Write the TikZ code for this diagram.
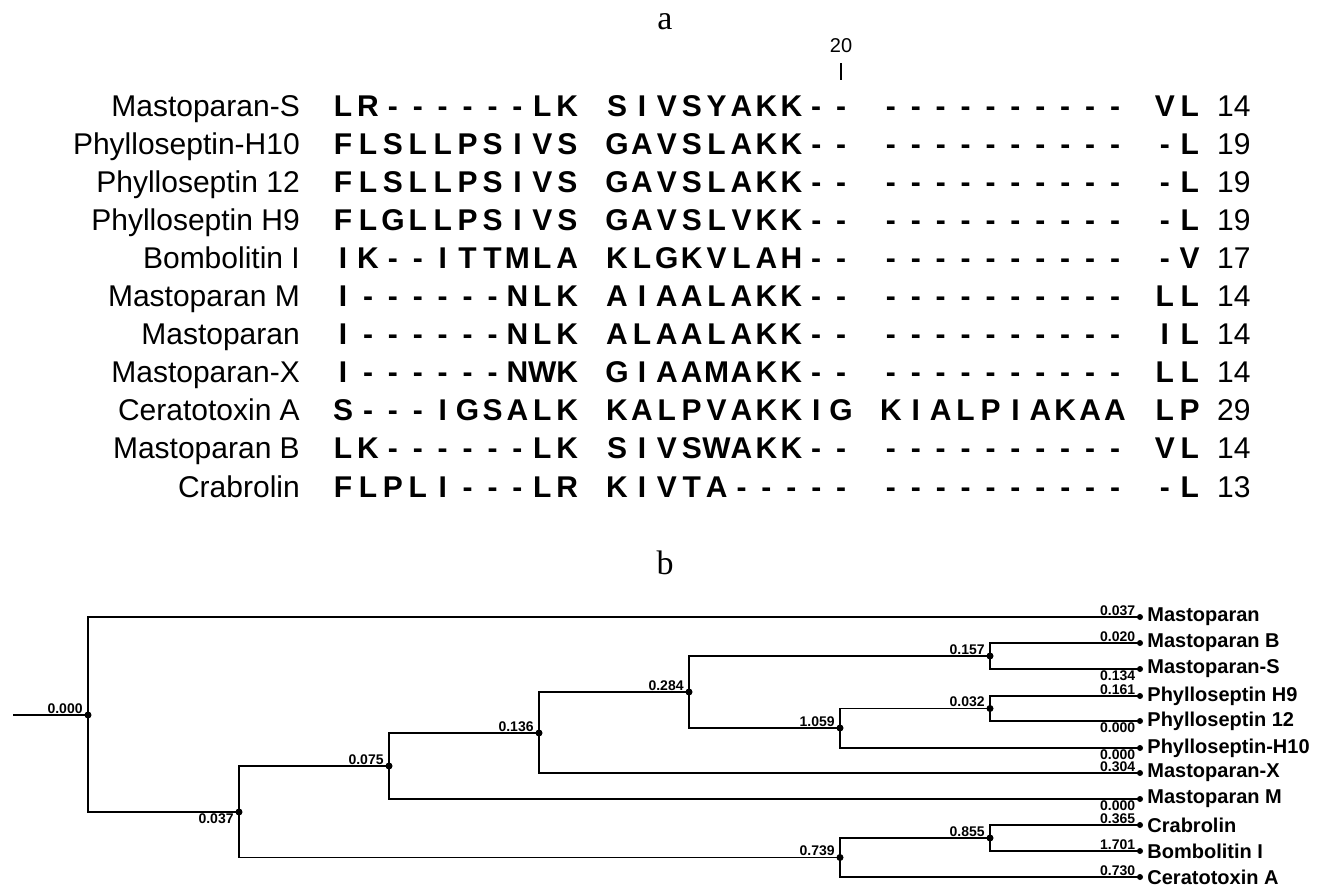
\documentclass[tikz,border=0pt]{standalone}
\usepackage{fontspec}
\setmainfont{Liberation Sans}
\newfontfamily\capfont{Liberation Serif}
\usetikzlibrary{positioning}

% one alignment column per residue, '.' is the gap between blocks
\newlength\colw
\setlength\colw{24.9pt}
\def\seqrow#1{\seqstep#1\relax}
\def\seqstep#1{\ifx\relax#1\else\seqchar{#1}\expandafter\seqstep\fi}
\def\seqchar#1{\ifx.#1\hspace*{\colw}\else\makebox[\colw]{#1}\fi}

\begin{document}
\begin{tikzpicture}[
    x=1pt, y=-1pt,
    title/.style={font=\capfont\fontsize{34}{34}\selectfont, inner sep=0},
    pname/.style={font=\fontsize{30}{30}\selectfont, anchor=base east, inner sep=0},
    res/.style={font=\bfseries\fontsize{30}{30}\selectfont, anchor=base west, inner sep=0},
    plen/.style={font=\fontsize{30}{30}\selectfont, anchor=base west, inner sep=0},
    branch/.style={line width=1.8pt},
    inode/.style={circle, fill, inner sep=0, minimum size=7pt},
    leaf/.style={circle, fill, inner sep=0, minimum size=6pt},
    blab/.style={font=\bfseries\fontsize{14}{14}\selectfont, inner sep=1.5pt},
    leafname/.style={font=\bfseries\fontsize{20}{20}\selectfont, inner sep=0, anchor=west}
]
\useasboundingbox (0,0) rectangle (1317,886);

% ---------- (a) alignment ----------
\node[title] (titleA) at (665,22) {a};
\node[font=\fontsize{20}{20}\selectfont, inner sep=0] (pos20) at (841,46) {20};
\draw[line width=1.5pt] (841,63) -- (841,80);

\node[pname] (nmMasS) at (300,116) {Mastoparan-S};
\node[res] (sqMasS) at (330.5,116) {\seqrow{LR------LK.SIVSYAKK--.----------.VL}};
\node[plen] (lnMasS) at (1217,116) {14};

\node[pname] (nmPhyH10) at (300,154.1) {Phylloseptin-H10};
\node[res] (sqPhyH10) at (330.5,154.1) {\seqrow{FLSLLPSIVS.GAVSLAKK--.----------.-L}};
\node[plen] (lnPhyH10) at (1217,154.1) {19};

\node[pname] (nmPhy12) at (300,192.2) {Phylloseptin 12};
\node[res] (sqPhy12) at (330.5,192.2) {\seqrow{FLSLLPSIVS.GAVSLAKK--.----------.-L}};
\node[plen] (lnPhy12) at (1217,192.2) {19};

\node[pname] (nmPhyH9) at (300,230.3) {Phylloseptin H9};
\node[res] (sqPhyH9) at (330.5,230.3) {\seqrow{FLGLLPSIVS.GAVSLVKK--.----------.-L}};
\node[plen] (lnPhyH9) at (1217,230.3) {19};

\node[pname] (nmBom) at (300,268.4) {Bombolitin I};
\node[res] (sqBom) at (330.5,268.4) {\seqrow{IK--ITTMLA.KLGKVLAH--.----------.-V}};
\node[plen] (lnBom) at (1217,268.4) {17};

\node[pname] (nmMasM) at (300,306.5) {Mastoparan M};
\node[res] (sqMasM) at (330.5,306.5) {\seqrow{I------NLK.AIAALAKK--.----------.LL}};
\node[plen] (lnMasM) at (1217,306.5) {14};

\node[pname] (nmMas) at (300,344.6) {Mastoparan};
\node[res] (sqMas) at (330.5,344.6) {\seqrow{I------NLK.ALAALAKK--.----------.IL}};
\node[plen] (lnMas) at (1217,344.6) {14};

\node[pname] (nmMasX) at (300,382.7) {Mastoparan-X};
\node[res] (sqMasX) at (330.5,382.7) {\seqrow{I------NWK.GIAAMAKK--.----------.LL}};
\node[plen] (lnMasX) at (1217,382.7) {14};

\node[pname] (nmCer) at (300,420.8) {Ceratotoxin A};
\node[res] (sqCer) at (330.5,420.8) {\seqrow{S---IGSALK.KALPVAKKIG.KIALPIAKAA.LP}};
\node[plen] (lnCer) at (1217,420.8) {29};

\node[pname] (nmMasB) at (300,458.9) {Mastoparan B};
\node[res] (sqMasB) at (330.5,458.9) {\seqrow{LK------LK.SIVSWAKK--.----------.VL}};
\node[plen] (lnMasB) at (1217,458.9) {14};

\node[pname] (nmCra) at (300,497) {Crabrolin};
\node[res] (sqCra) at (330.5,497) {\seqrow{FLPLI---LR.KIVTA-----.----------.-L}};
\node[plen] (lnCra) at (1217,497) {13};

% ---------- (b) tree ----------
\node[title] (titleB) at (665,563) {b};

% internal nodes
\coordinate (stub) at (13,715);
\node[inode, label={[blab, anchor=south east]west:0.000}] (n000) at (88,715) {};
\node[inode, label={[blab, anchor=north east]west:0.037}] (n037) at (239,812) {};
\node[inode, label={[blab, anchor=south east]west:0.075}] (n075) at (389,766) {};
\node[inode, label={[blab, anchor=south east]west:0.136}] (n136) at (539,733) {};
\node[inode, label={[blab, anchor=south east]west:0.284}] (n284) at (689,692) {};
\node[inode, label={[blab, anchor=south east]west:0.157}] (n157) at (990,656) {};
\node[inode, label={[blab, anchor=south east]west:1.059}] (n059) at (840,728) {};
\node[inode, label={[blab, anchor=south east]west:0.032}] (n032) at (990,708.5) {};
\node[inode, label={[blab, anchor=south east]west:0.739}] (n739) at (840,857.5) {};
\node[inode, label={[blab, anchor=south east]west:0.855}] (n855) at (990,838) {};

% leaves
\node[leaf, label={[blab, anchor=south east]west:0.037}] (lMas) at (1140,617) {};
\node[leaf, label={[blab, anchor=south east]west:0.020}] (lMasB) at (1140,643) {};
\node[leaf, label={[blab, anchor=north east]west:0.134}] (lMasS) at (1140,669) {};
\node[leaf, label={[blab, anchor=south east]west:0.161}] (lPhyH9) at (1140,696) {};
\node[leaf, label={[blab, anchor=north east]west:0.000}] (lPhy12) at (1140,721) {};
\node[leaf, label={[blab, anchor=north east]west:0.000}] (lPhyH10) at (1140,748) {};
\node[leaf, label={[blab, anchor=south east]west:0.304}] (lMasX) at (1140,773) {};
\node[leaf, label={[blab, anchor=north east]west:0.000}] (lMasM) at (1140,799) {};
\node[leaf, label={[blab, anchor=south east]west:0.365}] (lCra) at (1140,825) {};
\node[leaf, label={[blab, anchor=south east]west:1.701}] (lBom) at (1140,851) {};
\node[leaf, label={[blab, anchor=south east]west:0.730}] (lCer) at (1140,877) {};

\node[leafname, right=4pt of lMas] (tMas) {Mastoparan};
\node[leafname, right=4pt of lMasB] (tMasB) {Mastoparan B};
\node[leafname, right=4pt of lMasS] (tMasS) {Mastoparan-S};
\node[leafname, right=4pt of lPhyH9] (tPhyH9) {Phylloseptin H9};
\node[leafname, right=4pt of lPhy12] (tPhy12) {Phylloseptin 12};
\node[leafname, right=4pt of lPhyH10] (tPhyH10) {Phylloseptin-H10};
\node[leafname, right=4pt of lMasX] (tMasX) {Mastoparan-X};
\node[leafname, right=4pt of lMasM] (tMasM) {Mastoparan M};
\node[leafname, right=4pt of lCra] (tCra) {Crabrolin};
\node[leafname, right=4pt of lBom] (tBom) {Bombolitin I};
\node[leafname, right=4pt of lCer] (tCer) {Ceratotoxin A};

% branches
\draw[branch] (stub) -- (n000.center);
\draw[branch] (n000.center) |- (lMas.center);
\draw[branch] (n000.center) |- (n037.center);
\draw[branch] (n037.center) |- (n075.center);
\draw[branch] (n037.center) |- (n739.center);
\draw[branch] (n075.center) |- (n136.center);
\draw[branch] (n075.center) |- (lMasM.center);
\draw[branch] (n136.center) |- (n284.center);
\draw[branch] (n136.center) |- (lMasX.center);
\draw[branch] (n284.center) |- (n157.center);
\draw[branch] (n284.center) |- (n059.center);
\draw[branch] (n157.center) |- (lMasB.center);
\draw[branch] (n157.center) |- (lMasS.center);
\draw[branch] (n059.center) |- (n032.center);
\draw[branch] (n059.center) |- (lPhyH10.center);
\draw[branch] (n032.center) |- (lPhyH9.center);
\draw[branch] (n032.center) |- (lPhy12.center);
\draw[branch] (n739.center) |- (n855.center);
\draw[branch] (n739.center) |- (lCer.center);
\draw[branch] (n855.center) |- (lCra.center);
\draw[branch] (n855.center) |- (lBom.center);

\end{tikzpicture}
\end{document}
